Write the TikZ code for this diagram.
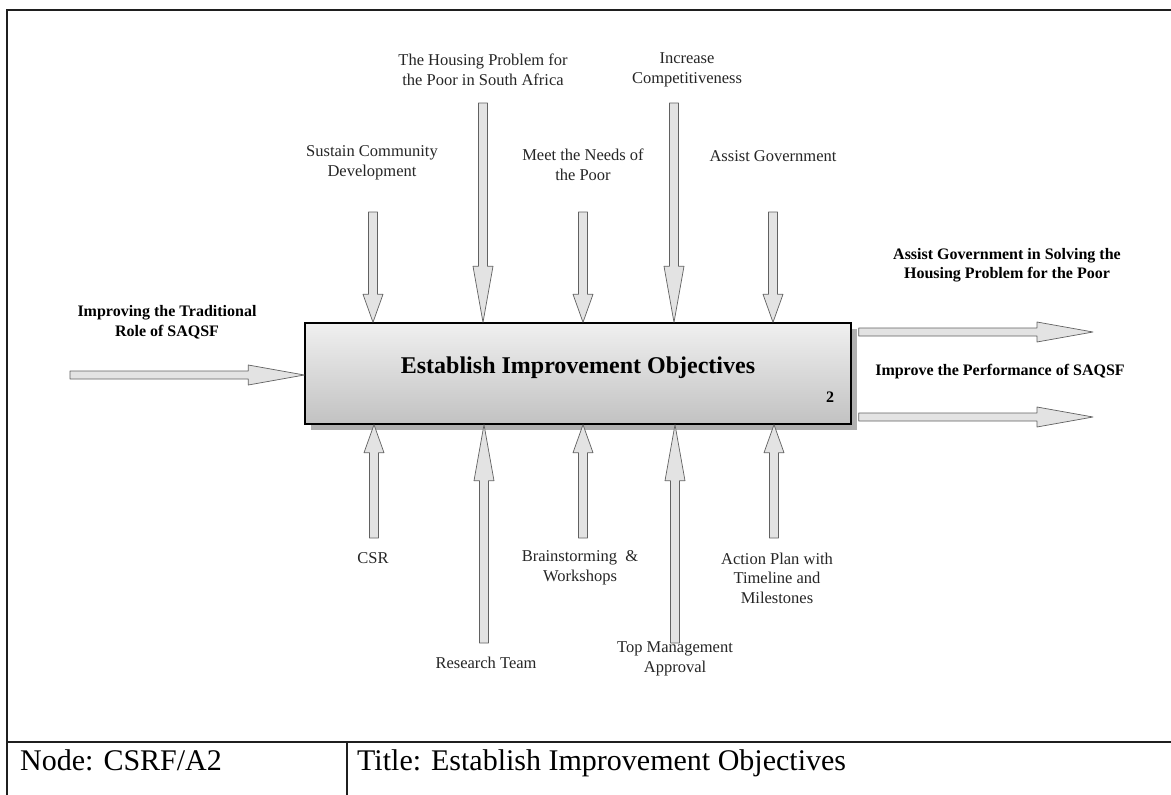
\documentclass[tikz,border=0pt]{standalone}
\usepackage{fontspec}
\setmainfont{Liberation Serif}
\usetikzlibrary{calc}

\tikzset{
  % hollow block arrow drawn as an outlined polygon from start to target
  fatshaft/.store in=\fatsw, fathead/.store in=\fathw, fatlen/.store in=\fathl,
  fatshaft=4.5pt, fathead=10pt, fatlen=28pt,
  fat/.style={draw=black!62, line width=0.7pt, fill=gray!22, line join=round,
    to path={
      ($(\tikztotarget)!\fathl!(\tikztostart)$) coordinate (fatH)
      ($(\tikztostart)!\fatsw!90:(\tikztotarget)$)
      -- ($(fatH)!\fatsw!-90:(\tikztostart)$)
      -- ($(fatH)!\fathw!-90:(\tikztostart)$)
      -- (\tikztotarget)
      -- ($(fatH)!\fathw!90:(\tikztostart)$)
      -- ($(fatH)!\fatsw!90:(\tikztostart)$)
      -- ($(\tikztostart)!\fatsw!-90:(\tikztotarget)$)
      -- cycle}},
  shortarrow/.style={fat, fatlen=28pt, fathead=10pt},
  longarrow/.style={fat, fatlen=56pt, fathead=10pt},
  sidearrow/.style={fat, fatshaft=4pt, fatlen=56pt, fathead=10pt},
  lbl/.style={align=center, inner sep=0pt, text=black!85,
    font=\fontsize{16.5}{19.5}\selectfont},
  blbl/.style={align=center, inner sep=0pt, text=black,
    font=\bfseries\fontsize{16}{19.5}\selectfont},
  cell/.style={anchor=base west, inner sep=0pt, text=black,
    font=\fontsize{30}{34}\selectfont},
  frameline/.style={line width=2pt, draw=black!88},
  procbox/.style={draw=black, line width=1.4pt, top color=gray!12,
    bottom color=gray!48, minimum width=546pt, minimum height=101pt,
    inner sep=0pt},
}

\begin{document}
\begin{tikzpicture}[x=1pt,y=-1pt]
  % page and frame
  \fill[white] (0,0) rectangle (1171,795);
  \useasboundingbox (0,0) rectangle (1171,795);
  \draw[frameline] (7,795) -- (7,10) -- (1171,10);
  \draw[frameline] (7,742) -- (1171,742);
  \draw[frameline] (347,742) -- (347,795);
  \node[cell] (nodecell) at (20,770) {Node: CSRF/A2};
  \node[cell] (titlecell) at (357,770) {Title: Establish Improvement Objectives};

  % activity box with its shadow
  \fill[gray!62] (311,329) rectangle (857,430);
  \node[procbox] (box) at (578,373.5) {};
  \node[inner sep=0pt, font=\bfseries\fontsize{24}{28}\selectfont]
    (boxtitle) at (578,368) {Establish Improvement Objectives};
  \node[inner sep=0pt, font=\bfseries\fontsize{16}{18}\selectfont]
    (boxnum) at (830,397) {2};

  % controls (top)
  \node[lbl] (ctl1) at (372,163) {Sustain Community\\Development};
  \node[lbl] (ctl2) at (483,70) {The Housing Problem for\\the Poor in South Africa};
  \node[lbl] (ctl3) at (583,165) {Meet the Needs of\\the Poor};
  \node[lbl] (ctl4) at (687,70) {Increase\\Competitiveness};
  \node[lbl] (ctl5) at (773,156) {Assist Government};

  \coordinate (c1s) at (373,212);
  \coordinate (c2s) at (483,103);
  \coordinate (c3s) at (583,212);
  \coordinate (c4s) at (674,103);
  \coordinate (c5s) at (773,212);
  \foreach \c in {1,...,5} \coordinate (c\c e) at (c\c s |- box.north);

  \draw[shortarrow] (c1s) to (c1e);
  \draw[longarrow]  (c2s) to (c2e);
  \draw[shortarrow] (c3s) to (c3e);
  \draw[longarrow]  (c4s) to (c4e);
  \draw[shortarrow] (c5s) to (c5e);

  % mechanisms (bottom)
  \node[lbl] (mec1) at (373,558) {CSR};
  \node[lbl] (mec2) at (486,663) {Research Team};
  \node[lbl] (mec3) at (580,568) {Brainstorming~~\&\\Workshops};
  \node[lbl] (mec4) at (675,659) {Top Management\\Approval};
  \node[lbl] (mec5) at (777,578) {Action Plan with\\Timeline and\\Milestones};

  \coordinate (m1s) at (374,538);
  \coordinate (m2s) at (484,643);
  \coordinate (m3s) at (583,538);
  \coordinate (m4s) at (675,643);
  \coordinate (m5s) at (774,538);
  \foreach \m in {1,...,5} \coordinate (m\m e) at (m\m s |- box.south);

  \draw[shortarrow] (m1s) to (m1e);
  \draw[longarrow]  (m2s) to (m2e);
  \draw[shortarrow] (m3s) to (m3e);
  \draw[longarrow]  (m4s) to (m4e);
  \draw[shortarrow] (m5s) to (m5e);

  % input (left)
  \node[blbl] (inp) at (167,322) {Improving the Traditional\\Role of SAQSF};
  \coordinate (i1s) at (70,375);
  \coordinate (i1e) at (box.west |- i1s);
  \draw[sidearrow] (i1s) to (i1e);

  % outputs (right)
  \node[blbl] (out1) at (1007,265) {Assist Government in Solving the\\Housing Problem for the Poor};
  \node[blbl] (out2) at (1000,372) {Improve the Performance of SAQSF};
  \coordinate (o1e) at (1093,332);
  \coordinate (o2e) at (1093,417);
  \path (box.east |- o1e) ++(7,0) coordinate (o1s);
  \path (box.east |- o2e) ++(7,0) coordinate (o2s);
  \draw[sidearrow] (o1s) to (o1e);
  \draw[sidearrow] (o2s) to (o2e);
\end{tikzpicture}
\end{document}
